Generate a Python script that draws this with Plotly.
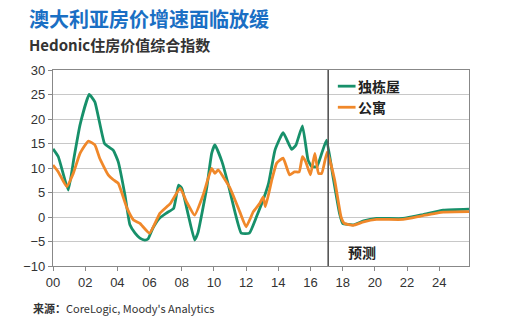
import plotly.graph_objects as go

# ---- data ----
house_x = [2000.0, 2000.33, 2000.95, 2001.3, 2001.68, 2002.25, 2002.6, 2003.2, 2003.5, 2003.75,
           2004.05, 2004.47, 2004.78, 2005.1, 2005.4, 2005.7, 2005.9, 2006.2, 2006.6, 2007.05,
           2007.5, 2007.8, 2008.0, 2008.4, 2008.8, 2009.0, 2009.55, 2009.86, 2010.06, 2010.5,
           2010.9, 2011.3, 2011.7, 2012.2, 2012.65, 2013.06, 2013.4, 2013.8, 2014.3, 2014.83,
           2015.1, 2015.5, 2015.85, 2016.07, 2016.4, 2016.7, 2017.0, 2017.4, 2017.8, 2018.0,
           2018.65, 2019.3, 2020.1, 2021.75, 2023.0, 2024.25, 2025.85]
house_y = [13.9, 12.3, 5.5, 12.0, 18.8, 25.0, 23.5, 15.0, 14.2, 13.6,
           11.3, 4.5, -1.6, -3.3, -4.3, -4.7, -4.5, -2.3, -0.3, 0.8,
           1.8, 6.5, 5.9, 0.5, -4.7, -3.3, 5.9, 13.0, 14.7, 11.3,
           6.5, 1.1, -3.3, -3.3, 0.1, 3.5, 6.9, 13.7, 17.2, 13.8,
           14.7, 18.6, 11.6, 10.3, 10.3, 13.0, 15.7, 8.2, 0.8, -1.3,
           -1.6, -0.8, -0.3, -0.3, 0.5, 1.4, 1.6]

unit_x = [2000.0, 2000.33, 2000.85, 2001.26, 2001.68, 2002.2, 2002.6, 2002.9, 2003.43, 2003.75,
          2004.05, 2004.6, 2005.0, 2005.4, 2006.0, 2006.65, 2007.3, 2007.9, 2008.3, 2008.8,
          2009.33, 2009.86, 2010.06, 2010.26, 2011.0, 2011.6, 2012.0, 2012.45, 2012.85, 2013.06,
          2013.2, 2013.6, 2013.9, 2014.3, 2014.7, 2015.0, 2015.3, 2015.5, 2015.7, 2016.0,
          2016.27, 2016.5, 2016.7, 2017.04, 2017.5, 2017.9, 2018.1, 2018.65, 2019.3, 2020.1,
          2021.75, 2023.0, 2024.25, 2025.85]
unit_y = [10.6, 9.2, 6.2, 8.9, 13.0, 15.5, 14.7, 12.0, 8.6, 7.6,
          6.9, 1.8, -0.6, -1.3, -3.3, 0.8, 2.8, 5.9, 3.1, 0.4,
          4.5, 9.9, 8.9, 9.6, 5.9, 1.1, -2.0, 1.1, 2.8, 4.1,
          2.1, 7.6, 11.0, 12.0, 8.6, 9.2, 9.2, 12.3, 11.3, 8.6,
          13.0, 8.9, 8.9, 13.3, 7.6, 0.0, -1.3, -1.7, -1.0, -0.5,
          -0.5, 0.3, 1.0, 1.1]

series_names = ["独栋屋", "公寓"]
x_tick_vals = [2000, 2002, 2004, 2006, 2008, 2010, 2012, 2014, 2016, 2018, 2020, 2022, 2024]
x_tick_text = ["00", "02", "04", "06", "08", "10", "12", "14", "16", "18", "20", "22", "24"]
y_tick_vals = [-10, -5, 0, 5, 10, 15, 20, 25, 30]
forecast_start = 2017.1

GREEN = "#17906a"
ORANGE = "#f0882a"
CJK = "Noto Sans CJK SC"
LAT = "Liberation Sans"

fig = go.Figure()
fig.add_trace(go.Scatter(x=house_x, y=house_y, mode="lines", name=series_names[0],
                         line=dict(color=GREEN, width=2.8, shape="spline", smoothing=0.4),
                         showlegend=False))
fig.add_trace(go.Scatter(x=unit_x, y=unit_y, mode="lines", name=series_names[1],
                         line=dict(color=ORANGE, width=2.8, shape="spline", smoothing=0.4),
                         showlegend=False))

shapes = [
    # forecast divider
    dict(type="line", xref="x", yref="paper", x0=forecast_start, x1=forecast_start, y0=0, y1=1,
         line=dict(color="#555555", width=1.6), layer="above"),
    # legend background
    dict(type="rect", xref="x", yref="y", x0=2017.25, x1=2025.7, y0=21.2, y1=29.2,
         fillcolor="white", line=dict(width=0), layer="below"),
    # legend samples
    dict(type="line", xref="x", yref="y", x0=2017.7, x1=2018.8, y0=26.7, y1=26.7,
         line=dict(color=GREEN, width=2.8)),
    dict(type="line", xref="x", yref="y", x0=2017.7, x1=2018.8, y0=22.4, y1=22.4,
         line=dict(color=ORANGE, width=2.8)),
]

annotations = [
    dict(text="<b>澳大利亚房价增速面临放缓</b>", xref="paper", yref="paper", x=-0.0625, y=1.265,
         xanchor="left", yanchor="middle", showarrow=False,
         font=dict(family=CJK, size=20, color="#1a6fc4")),
    dict(text="<b>Hedonic住房价值综合指数</b>", xref="paper", yref="paper", x=-0.0625, y=1.128,
         xanchor="left", yanchor="middle", showarrow=False,
         font=dict(family=CJK, size=15, color="#333333")),
    dict(text="<b>来源：</b>CoreLogic, Moody's Analytics", xref="paper", yref="paper", x=-0.054, y=-0.214,
         xanchor="left", yanchor="middle", showarrow=False,
         font=dict(family=CJK, size=11, color="#333333")),
    dict(text="<b>" + series_names[0] + "</b>", xref="x", yref="y", x=2018.85, y=26.7,
         xanchor="left", yanchor="middle", showarrow=False,
         font=dict(family=CJK, size=14, color="#222222")),
    dict(text="<b>" + series_names[1] + "</b>", xref="x", yref="y", x=2018.85, y=22.4,
         xanchor="left", yanchor="middle", showarrow=False,
         font=dict(family=CJK, size=14, color="#222222")),
    dict(text="<b>预测</b>", xref="x", yref="y", x=2018.2, y=-7.1,
         xanchor="left", yanchor="middle", showarrow=False,
         font=dict(family=CJK, size=14, color="#222222")),
]

fig.update_layout(
    width=511, height=328,
    margin=dict(l=53, r=42, t=70, b=62),
    paper_bgcolor="white", plot_bgcolor="white",
    showlegend=False,
    shapes=shapes, annotations=annotations,
    font=dict(family=LAT, size=12, color="#333333"),
)
fig.update_xaxes(range=[2000, 2025.85], tickmode="array", tickvals=x_tick_vals, ticktext=x_tick_text,
                 showgrid=False, showline=True, linecolor="#888888", linewidth=1.2, mirror=True,
                 ticks="outside", ticklen=4, tickcolor="#888888",
                 tickfont=dict(family=LAT, size=13, color="#333333"), zeroline=False)
fig.update_yaxes(range=[-10, 30], tickmode="array", tickvals=y_tick_vals,
                 showgrid=True, gridcolor="#c8c8c8", gridwidth=1.3,
                 showline=True, linecolor="#888888", linewidth=1.2, mirror=True,
                 ticks="outside", ticklen=4, tickcolor="#888888",
                 tickfont=dict(family=LAT, size=13, color="#333333"), zeroline=False)

fig.write_html("out.html")
